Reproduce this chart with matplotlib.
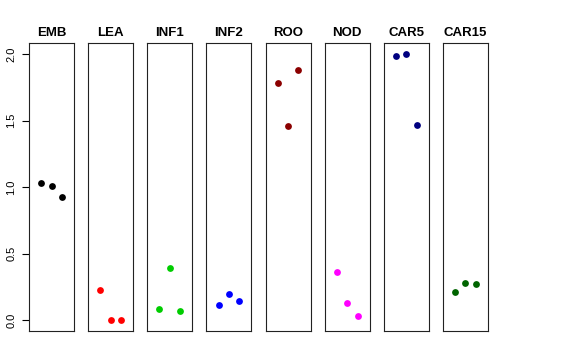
import numpy as np
import matplotlib
matplotlib.use("Agg")
import matplotlib.pyplot as plt

plt.rcParams['font.family'] = ['Liberation Sans', 'DejaVu Sans']

# tissue panels and their values (three replicates each)
tissues = ["EMB", "LEA", "INF1", "INF2", "ROO", "NOD", "CAR5", "CAR15"]
colors = ["black", "red", "#00CD00", "blue", "#8B0000", "magenta", "#000080", "#006400"]
emb = [1.028, 1.010, 0.923]
lea = [0.225, 0.0, 0.0]
inf1 = [0.083, 0.395, 0.070]
inf2 = [0.118, 0.200, 0.143]
roo = [1.780, 1.460, 1.880]
nod = [0.365, 0.133, 0.030]
car5 = [1.985, 1.998, 1.470]
car15 = [0.215, 0.278, 0.270]
values = [emb, lea, inf1, inf2, roo, nod, car5, car15]
reps = [1, 2, 3]

fig = plt.figure(figsize=(5.76, 3.6), dpi=100)
W, H = 576, 360
left0, step, width = 29, 59.14, 45
bottom, top = 331, 43.3

for i, (name, col, vals) in enumerate(zip(tissues, colors, values)):
    x0 = left0 + i * step
    ax = fig.add_axes([x0 / W, 1 - bottom / H, width / W, (bottom - top) / H])
    ax.scatter(reps, vals, s=24, color=col, zorder=3, linewidths=0)
    ax.set_xlim(-0.16, 4.16)
    ax.set_ylim(-0.08, 2.08)
    ax.set_xticks([])
    ax.set_title(name, fontsize=9.5, fontweight='bold', pad=5)
    for s in ax.spines.values():
        s.set_linewidth(0.8)
        s.set_color("#222222")
    if i == 0:
        ax.set_yticks([0.0, 0.5, 1.0, 1.5, 2.0])
        ax.set_yticklabels(["0.0", "0.5", "1.0", "1.5", "2.0"], rotation=90, va='center', fontsize=8)
        ax.tick_params(axis='y', length=5, width=0.8, pad=4)
    else:
        ax.set_yticks([])

fig.savefig("out.png", dpi=100)
